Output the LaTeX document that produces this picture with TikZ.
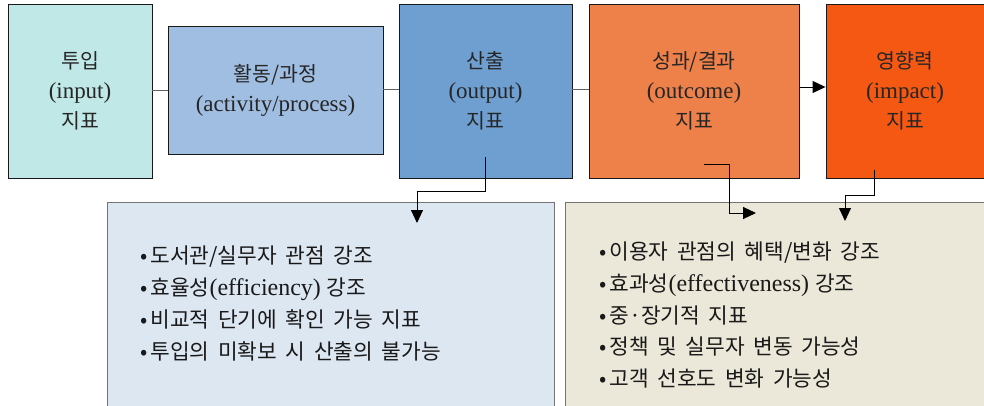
\documentclass[tikz,border=0pt]{standalone}
\usepackage{fontspec}
\setmainfont{Liberation Serif}[Scale=1.12]
\newfontfamily\kr{Noto Sans CJK KR}[WordSpace=1.8]
\usetikzlibrary{arrows.meta}
\definecolor{cInput}{RGB}{191,232,230}
\definecolor{cAct}{RGB}{160,190,225}
\definecolor{cOut}{RGB}{111,159,208}
\definecolor{cOutc}{RGB}{238,128,74}
\definecolor{cImp}{RGB}{245,88,18}
\definecolor{cBL}{RGB}{221,231,242}
\definecolor{cBR}{RGB}{235,231,217}
\definecolor{cLine}{RGB}{96,96,96}
\newcommand{\bul}{{\kr •}\hspace{3pt}}
\tikzset{
  topbox/.style={draw=black!90, line width=0.9pt, inner sep=0pt, align=center,
    font=\fontsize{20.5}{30}\selectfont, text=black!85},
  botbox/.style={draw=black!55, line width=0.9pt, inner sep=0pt},
  bullets/.style={anchor=west, align=left, inner sep=0pt,
    font=\fontsize{21.4}{31.7}\selectfont, text=black!90},
  link/.style={draw=cLine, line width=0.9pt},
  flow/.style={draw=black, line width=0.9pt, -{Triangle[length=13pt,width=12pt]}},
}
\begin{document}
\begin{tikzpicture}[x=1pt,y=-1pt]
\useasboundingbox (0,0) rectangle (984,406);
% top boxes
\node[topbox, fill=cInput, minimum width=144pt, minimum height=174pt] (inp) at (80,91)
  {{\kr 투입}\\(input)\\{\kr 지표}};
\node[topbox, fill=cAct, minimum width=215pt, minimum height=128pt] (act) at (275.5,90)
  {{\kr 활동/과정}\\(activity/process)};
\node[topbox, fill=cOut, minimum width=173pt, minimum height=174pt] (out) at (485.5,91)
  {{\kr 산출}\\(output)\\{\kr 지표}};
\node[topbox, fill=cOutc, minimum width=210pt, minimum height=174pt] (ocm) at (694,91)
  {{\kr 성과/결과}\\(outcome)\\{\kr 지표}};
\node[topbox, fill=cImp, minimum width=158pt, minimum height=174pt] (imp) at (905,91)
  {{\kr 영향력}\\(impact)\\{\kr 지표}};
% bottom boxes
\node[botbox, fill=cBL, minimum width=447pt, minimum height=210pt] (bl) at (330.5,307) {};
\node[botbox, fill=cBR, minimum width=420pt, minimum height=210pt] (br) at (775,307) {};
\node[bullets] (blt) at (140,303.5)
  {\bul{\kr 도서관/실무자 관점 강조}\\
   \bul{\kr 효율성}(efficiency) {\kr 강조}\\
   \bul{\kr 비교적 단기에 확인 가능 지표}\\
   \bul{\kr 투입의 미확보 시 산출의 불가능}};
\node[bullets] (brt) at (599,315)
  {\bul{\kr 이용자 관점의 혜택/변화 강조}\\
   \bul{\kr 효과성}(effectiveness) {\kr 강조}\\
   \bul{\kr 중·장기적 지표}\\
   \bul{\kr 정책 및 실무자 변동 가능성}\\
   \bul{\kr 고객 선호도 변화 가능성}};
% horizontal links
\draw[link] (inp.east |- 0,90) -- (act.west |- 0,90);
\draw[link] (act.east |- 0,89) -- (out.west |- 0,89);
\draw[link] (out.east |- 0,89) -- (ocm.west |- 0,89);
\draw[flow] (ocm.east |- 0,87) -- (imp.west |- 0,87);
% down connectors
\coordinate (o1) at (485,157);
\coordinate (o2) at (417,223);
\draw[flow] (o1) -- (485,191) -- (417,191) -- (o2);
\coordinate (c1) at (704,164);
\coordinate (c2) at (756,213);
\draw[flow] (c1) -- (729,164) -- (729,213) -- (c2);
\coordinate (m1) at (874,170);
\coordinate (m2) at (845,221);
\draw[flow] (m1) -- (874,195) -- (845,195) -- (m2);
\end{tikzpicture}
\end{document}
